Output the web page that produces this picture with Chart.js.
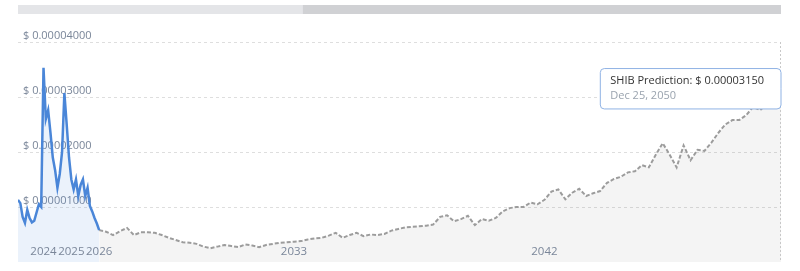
<!DOCTYPE html>
<html lang="en">
<head>
  <meta charset="UTF-8" />
  <title>SHIB price prediction</title>
  <script src="https://cdn.jsdelivr.net/npm/chart.js"></script>
  <style>
    body { margin: 0; background: #fff; }
    canvas { display: block; }
  </style>
</head>
<body>
  <canvas id="shibChart" width="800" height="271"></canvas>

  <script>
    // history: monthly closes, Feb 2023 .. Jan 2026
    const histStart = 2023 + 1 / 12;
    const historyValues = [
      1.13e-5, 1.07e-5, 0.82e-5, 0.71e-5, 0.95e-5, 0.80e-5, 0.72e-5, 0.75e-5, 0.90e-5, 1.05e-5,
      1.00e-5, 3.53e-5, 2.60e-5, 2.76e-5, 2.35e-5, 1.90e-5, 1.67e-5, 1.35e-5, 1.60e-5, 2.00e-5,
      3.07e-5, 2.50e-5, 1.90e-5, 1.50e-5, 1.32e-5, 1.50e-5, 1.20e-5, 1.40e-5, 1.50e-5, 1.20e-5,
      1.35e-5, 1.02e-5, 0.92e-5, 0.80e-5, 0.70e-5, 0.58e-5
    ];

    // prediction: quarterly, Jan 2026 onwards
    const predStart = 2026;
    const predictionValues = [
      0.58e-5, 0.55e-5, 0.49e-5, 0.56e-5, 0.62e-5, 0.49e-5, 0.54e-5, 0.54e-5, 0.53e-5, 0.49e-5,
      0.44e-5, 0.40e-5, 0.36e-5, 0.35e-5, 0.33e-5, 0.28e-5, 0.25e-5, 0.28e-5, 0.31e-5, 0.29e-5,
      0.27e-5, 0.32e-5, 0.30e-5, 0.27e-5, 0.31e-5, 0.33e-5, 0.35e-5, 0.36e-5, 0.37e-5, 0.38e-5,
      0.41e-5, 0.43e-5, 0.44e-5, 0.48e-5, 0.53e-5, 0.44e-5, 0.49e-5, 0.53e-5, 0.47e-5, 0.50e-5,
      0.49e-5, 0.51e-5, 0.57e-5, 0.60e-5, 0.63e-5, 0.64e-5, 0.65e-5, 0.66e-5, 0.68e-5, 0.82e-5,
      0.85e-5, 0.74e-5, 0.78e-5, 0.84e-5, 0.67e-5, 0.78e-5, 0.75e-5, 0.80e-5, 0.92e-5, 0.98e-5,
      1.00e-5, 1.00e-5, 1.08e-5, 1.05e-5, 1.13e-5, 1.28e-5, 1.32e-5, 1.14e-5, 1.26e-5, 1.33e-5,
      1.20e-5, 1.25e-5, 1.29e-5, 1.44e-5, 1.51e-5, 1.55e-5, 1.63e-5, 1.65e-5, 1.76e-5, 1.72e-5,
      1.95e-5, 2.16e-5, 1.95e-5, 1.72e-5, 2.12e-5, 1.85e-5, 2.04e-5, 2.02e-5, 2.17e-5, 2.35e-5,
      2.50e-5, 2.58e-5, 2.58e-5, 2.67e-5, 2.82e-5, 2.76e-5, 2.88e-5, 3.45e-5, 3.15e-5
    ];

    const yearTicks = [2024, 2025, 2026, 2033, 2042];
    const tooltipDate = "Dec 25, 2050";

    const historyPoints = historyValues.map((v, i) => ({ x: histStart + i / 12, y: v }));
    const predictionPoints = predictionValues.map((v, i) => ({ x: predStart + i * 0.25, y: v }));

    // fixed tooltip to the left of the last point
    Chart.Tooltip.positioners.lastPoint = function (items) {
      if (!items.length) return false;
      const el = items[0].element;
      return { x: el.x, y: el.y, xAlign: "right", yAlign: "center" };
    };

    // scrollbar strip above the plot
    const navigatorBar = {
      id: "navigatorBar",
      beforeDraw(chart) {
        const { ctx, chartArea } = chart;
        const split = chartArea.left + (chartArea.right - chartArea.left) * 0.373;
        ctx.save();
        ctx.fillStyle = "#e4e5e8";
        ctx.fillRect(chartArea.left, 5, split - chartArea.left, 9);
        ctx.fillStyle = "#d0d1d4";
        ctx.fillRect(split, 5, chartArea.right - split, 9);
        ctx.restore();
      }
    };

    // year labels sit inside the plot, just above the bottom edge
    const yearLabels = {
      id: "yearLabels",
      afterDatasetsDraw(chart) {
        const { ctx, chartArea } = chart;
        const xs = chart.scales.x;
        ctx.save();
        ctx.font = "11.5px 'Open Sans', sans-serif";
        ctx.fillStyle = "#7a8699";
        ctx.textAlign = "center";
        ctx.textBaseline = "middle";
        yearTicks.forEach(y => ctx.fillText(String(y), xs.getPixelForValue(y), chartArea.bottom - 10));
        ctx.restore();
      }
    };

    // dotted crosshair at tooltip point
    const crosshair = {
      id: "crosshair",
      afterDatasetsDraw(chart) {
        const active = chart.tooltip.getActiveElements();
        if (!active.length) return;
        const { ctx, chartArea } = chart;
        const x = Math.round(active[0].element.x) - 0.5;
        ctx.save();
        ctx.strokeStyle = "#c8c8c8";
        ctx.lineWidth = 1;
        ctx.setLineDash([2, 2]);
        ctx.beginPath();
        ctx.moveTo(x, chartArea.top);
        ctx.lineTo(x, chartArea.bottom);
        ctx.stroke();
        ctx.restore();
      }
    };

    Chart.defaults.font.family = "'Open Sans', sans-serif";
    Chart.defaults.font.size = 11;

    const chart = new Chart(document.getElementById("shibChart"), {
      type: "line",
      data: {
        datasets: [
          {
            label: "SHIB Price",
            data: historyPoints,
            borderColor: "#4a86d8",
            borderWidth: 2.5,
            backgroundColor: "rgba(74,134,216,0.11)",
            fill: "origin",
            pointRadius: 0,
            pointHoverRadius: 0,
            tension: 0
          },
          {
            label: "SHIB Prediction",
            data: predictionPoints,
            borderColor: "#9c9c9c",
            borderWidth: 2,
            borderDash: [4, 2],
            backgroundColor: "rgba(0,0,0,0.045)",
            fill: "origin",
            pointRadius: 0,
            pointHoverRadius: 0,
            tension: 0
          }
        ]
      },
      options: {
        responsive: false,
        animation: false,
        events: [],
        layout: { padding: { left: 8, right: 19, top: 42, bottom: 9 } },
        scales: {
          x: {
            type: "linear",
            display: false,
            min: histStart,
            max: predStart + (predictionValues.length - 1) * 0.25
          },
          y: {
            min: 0,
            max: 4e-5,
            afterFit: (s) => { s.paddingTop = 0; s.paddingBottom = 0; },
            border: { display: false, dash: [3, 3] },
            grid: {
              drawTicks: false,
              color: (c) => (c.tick && c.tick.value === 0 ? "rgba(0,0,0,0)" : "#dedede")
            },
            ticks: {
              stepSize: 1e-5,
              mirror: true,
              padding: 5,
              labelOffset: -6,
              color: "#7a8699",
              callback: (v) => (v === 0 ? "" : "$ " + v.toFixed(8))
            }
          }
        },
        plugins: {
          legend: { display: false },
          tooltip: {
            enabled: true,
            position: "lastPoint",
            backgroundColor: "#ffffff",
            borderColor: "#8fb2e4",
            borderWidth: 1,
            cornerRadius: 4,
            caretSize: 0,
            caretPadding: 0,
            displayColors: false,
            padding: { left: 10, right: 17, top: 6, bottom: 6 },
            titleColor: "#333333",
            titleFont: { size: 11, weight: "normal" },
            titleMarginBottom: 2,
            bodyColor: "#9aa3ae",
            bodyFont: { size: 11 },
            callbacks: {
              title: (items) => "SHIB Prediction: $ " + items[0].parsed.y.toFixed(8),
              label: () => tooltipDate
            }
          }
        }
      },
      plugins: [navigatorBar, yearLabels, crosshair]
    });

    chart.tooltip.setActiveElements(
      [{ datasetIndex: 1, index: predictionValues.length - 1 }],
      { x: 0, y: 0 }
    );
    chart.update();
  </script>
</body>
</html>
